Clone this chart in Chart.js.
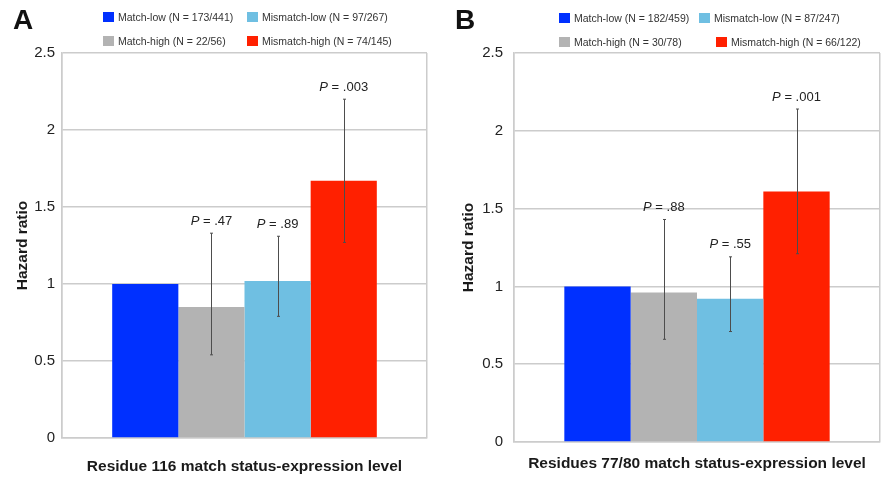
<!DOCTYPE html>
<html>
<head>
<meta charset="utf-8">
<script src="https://cdn.jsdelivr.net/npm/chart.js@4.4.0/dist/chart.umd.min.js"></script>
<style>
  body { margin: 0; background: #fff; font-family: "Liberation Sans", Arial, sans-serif; }
  #wrap { position: relative; width: 881px; height: 477px; overflow: hidden; }
  .panel { position: absolute; top: 0; height: 477px; }
  .panel canvas { position: absolute; left: 0; top: 0; }
  .letter { position: absolute; top: 6px; font-size: 28px; line-height: 28px; font-weight: bold; color: #111; }
  .lg { position: absolute; display: flex; align-items: center; font-size: 10.5px; color: #333; white-space: nowrap; height: 10px; }
  .lg i { display: inline-block; width: 11px; height: 10px; margin-right: 4px; }
</style>
</head>
<body>
<div id="wrap">
  <div class="panel" id="panelA" style="left:0;width:440px">
    <canvas id="chartA" width="440" height="477"></canvas>
    <div class="letter" style="left:13px">A</div>
  </div>
  <div class="panel" id="panelB" style="left:440px;width:441px">
    <canvas id="chartB" width="441" height="477"></canvas>
    <div class="letter" style="left:15px">B</div>
  </div>
</div>
<script>
// groups in bar order
const groups = ['Match-low', 'Match-high', 'Mismatch-low', 'Mismatch-high'];
const colors = ['#0030ff', '#b3b3b3', '#6fbfe2', '#ff2000'];
const yTicks = [0, 0.5, 1, 1.5, 2, 2.5];

// panel A - residue 116
const countsA = ['173/441', '22/56', '97/267', '74/145'];
const hrA = [1, 0.85, 1.02, 1.67];
const lowA = [null, 0.54, 0.79, 1.27];
const highA = [null, 1.33, 1.31, 2.2];
const pA = [null, '.47', '.89', '.003'];

// panel B - residues 77/80
const countsB = ['182/459', '30/78', '87/247', '66/122'];
const hrB = [1, 0.96, 0.92, 1.61];
const lowB = [null, 0.66, 0.71, 1.21];
const highB = [null, 1.43, 1.19, 2.14];
const pB = [null, '.88', '.55', '.001'];

const FONT = '"Liberation Sans", Arial, sans-serif';

// error bars + P labels drawn on top of the bars
const errorBars = {
  id: 'errorBars',
  afterDatasetsDraw(chart, args, opts) {
    const ctx = chart.ctx;
    const y = chart.scales.y;
    ctx.save();
    chart.data.datasets.forEach((ds, i) => {
      if (opts.low[i] == null) return;
      const bar = chart.getDatasetMeta(i).data[0];
      const x = Math.round(bar.x) + 0.5;
      const top = y.getPixelForValue(opts.high[i]);
      const bot = y.getPixelForValue(opts.low[i]);
      ctx.strokeStyle = '#4d4d4d';
      ctx.lineWidth = 1;
      ctx.beginPath();
      ctx.moveTo(x, top); ctx.lineTo(x, bot);
      ctx.moveTo(x - 1.5, top); ctx.lineTo(x + 1.5, top);
      ctx.moveTo(x - 1.5, bot); ctx.lineTo(x + 1.5, bot);
      ctx.stroke();

      const rest = ' = ' + opts.p[i];
      ctx.font = 'italic 13px ' + FONT;
      const w1 = ctx.measureText('P').width;
      ctx.font = '13px ' + FONT;
      const w2 = ctx.measureText(rest).width;
      const x0 = bar.x - (w1 + w2) / 2;
      const ty = top - 12;
      ctx.fillStyle = '#222';
      ctx.textBaseline = 'middle';
      ctx.textAlign = 'left';
      ctx.font = 'italic 13px ' + FONT;
      ctx.fillText('P', x0, ty);
      ctx.font = '13px ' + FONT;
      ctx.fillText(rest, x0 + w1, ty);
    });
    ctx.restore();
  }
};

function makeChart(id, counts, hr, low, high, p, lay) {
  new Chart(document.getElementById(id), {
    type: 'bar',
    data: {
      labels: [''],
      datasets: groups.map((g, i) => ({
        label: g + ' (N = ' + counts[i] + ')',
        data: [hr[i]],
        backgroundColor: colors[i],
        borderWidth: 0,
        categoryPercentage: 0.725,
        barPercentage: 1
      }))
    },
    options: {
      responsive: false,
      animation: false,
      layout: { padding: { top: 53, left: 0, right: lay.right, bottom: 0 } },
      plugins: {
        legend: { display: false },
        tooltip: { enabled: false },
        errorBars: { low: low, high: high, p: p }
      },
      scales: {
        x: {
          ticks: { display: false },
          grid: { color: '#cccccc', lineWidth: 1.5, drawTicks: false },
          border: { color: '#cccccc', width: 1.5 },
          title: {
            display: true,
            text: lay.xTitle,
            color: '#1a1a1a',
            font: { family: FONT, size: 15.5, weight: 'bold' },
            padding: { top: 0, bottom: lay.xTitlePad }
          },
          afterFit: s => { s.height = lay.xHeight; }
        },
        y: {
          min: 0,
          max: 2.5,
          afterBuildTicks: s => { s.ticks = yTicks.map(v => ({ value: v })); },
          ticks: {
            color: '#222',
            padding: lay.tickPad,
            font: { family: FONT, size: 15 },
            callback: v => String(v)
          },
          grid: { color: '#cccccc', lineWidth: 1.5, drawTicks: false },
          border: { color: '#cccccc', width: 1.5 },
          title: {
            display: true,
            text: 'Hazard ratio',
            color: '#1a1a1a',
            font: { family: FONT, size: 15.5, weight: 'bold' },
            padding: { top: lay.yTitlePad, bottom: 0 }
          },
          afterFit: s => { s.width = lay.yWidth; }
        }
      }
    },
    plugins: [errorBars]
  });
}

function makeLegend(panelId, counts, pos) {
  const panel = document.getElementById(panelId);
  groups.forEach((g, i) => {
    const d = document.createElement('div');
    d.className = 'lg';
    d.style.left = pos[i][0] + 'px';
    d.style.top = pos[i][1] + 'px';
    d.innerHTML = '<i style="background:' + colors[i] + '"></i>' + g + ' (N = ' + counts[i] + ')';
    panel.appendChild(d);
  });
}

makeChart('chartA', countsA, hrA, lowA, highA, pA, {
  right: 13, yWidth: 62, xHeight: 39, tickPad: 7, yTitlePad: 13, xTitlePad: 1,
  xTitle: 'Residue 116 match status-expression level'
});
makeChart('chartB', countsB, hrB, lowB, highB, pB, {
  right: 1, yWidth: 74, xHeight: 35, tickPad: 11, yTitlePad: 19, xTitlePad: 4,
  xTitle: 'Residues 77/80 match status-expression level'
});

makeLegend('panelA', countsA, [[103, 12], [103, 36], [247, 12], [247, 36]]);
makeLegend('panelB', countsB, [[119, 13], [119, 37], [259, 13], [276, 37]]);
</script>
</body>
</html>
